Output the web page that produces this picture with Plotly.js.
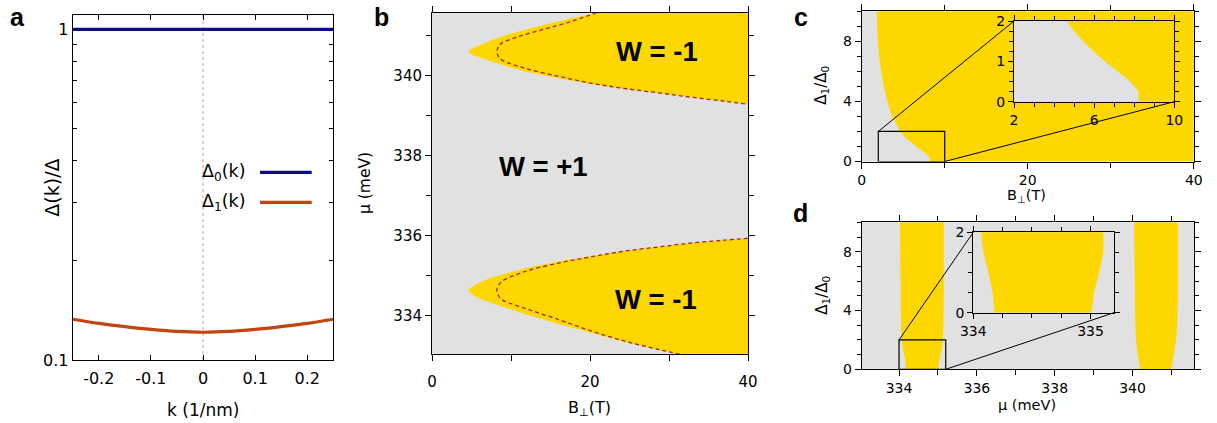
<!DOCTYPE html>
<html><head><meta charset="utf-8">
<script src="https://cdn.plot.ly/plotly-3.0.1.min.js"></script>
<style>html,body{margin:0;padding:0;background:#fff}</style>
</head><body><div id="chart" style="width:1217px;height:423px"></div>
<script>
// ---------- Panel a data ----------
const kVals  = [-0.25,-0.2,-0.15,-0.1,-0.05,0,0.05,0.1,0.15,0.2,0.25];
const delta0 = [1,1,1,1,1,1,1,1,1,1,1];
const delta1 = [0.1328,0.1290,0.1262,0.1238,0.1220,0.1213,0.1220,0.1238,0.1262,0.1290,0.1328];
const aXTickVals = [-0.2,-0.1,0,0.1,0.2];
const aXTickText = ['-0.2','-0.1','0','0.1','0.2'];
const aYTickVals = [0.1,1];
const aYTickText = ['0.1','1'];
const aYMinorVals = [0.2,0.3,0.4,0.5,0.6,0.7,0.8,0.9];

// ---------- Panel b data (B in T, mu in meV) ----------
const bRangeB  = [0, 40];
const bRangeMu = [333.04, 341.58];
// upper W=-1 region, outer boundary: top exit -> tip -> right edge
const upOuterB  = [21.05,18.1,13.88,9.66,7.55,6.29,5.44,5.0,4.6,5.0,5.44,6.29,7.55,9.66,11.77,15.99,20.2,24.4,28.7,32.9,37.1,40];
const upOuterMu = [341.58,341.46,341.26,341.04,340.90,340.80,340.73,340.68,340.61,340.54,340.50,340.44,340.36,340.23,340.11,339.94,339.79,339.675,339.57,339.46,339.36,339.29];
// upper region, dashed boundary
const upDashB  = [20.84,17.26,13.88,10.93,8.82,8.42,8.19,8.42,8.82,11.77,15.99,20.2,24.4,28.7,32.9,37.1,40];
const upDashMu = [341.58,341.34,341.15,340.98,340.82,340.73,340.61,340.49,340.40,340.19,339.99,339.815,339.685,339.575,339.465,339.365,339.29];
// lower W=-1 region, outer boundary: right edge -> tip -> bottom exit
const loOuterB  = [40,37.1,32.9,28.7,24.4,20.2,15.99,11.77,9.66,7.55,6.29,5.44,5.0,4.6,5.0,5.44,6.29,7.55,9.66,11.77,15.99,20.2,24.4,28.7,31.6];
const loOuterMu = [335.94,335.90,335.83,335.73,335.63,335.50,335.36,335.19,335.08,334.96,334.86,334.78,334.72,334.63,334.55,334.49,334.41,334.32,334.18,334.05,333.80,333.57,333.35,333.15,333.04];
// lower region, dashed boundary
const loDashB  = [40,37.1,32.9,28.7,24.4,20.2,15.99,11.77,8.82,8.42,8.19,8.42,8.82,11.77,15.99,20.2,24.4,28.7,31.4];
const loDashMu = [335.94,335.895,335.825,335.725,335.62,335.48,335.32,335.11,334.86,334.76,334.63,334.51,334.41,334.19,333.91,333.62,333.37,333.16,333.04];

// ---------- Panel c data ----------
const cRangeB = [0, 40];
const cRangeD = [0, 10];
const cBoundB = [1.81,1.85,1.93,2.1,2.33,2.65,3.0,3.6,4.63,5.46,6.54,7.2,7.79,8.2,8.3];
const cBoundD = [10,9,8,7,6,5,4.2,3.1,2,1.5,1,0.74,0.5,0.25,0];
const cInsetRangeB = [2, 10];
const cInsetRangeD = [0, 2];

// ---------- Panel d data ----------
const dRangeMu = [333.04, 341.58];
const dRangeD  = [0, 10];
const dBand1LeftMu  = [334.02,334.03,334.05,334.066,334.085,334.128,334.165,334.179];
const dBand1LeftD   = [10,6,3,2,1.5,1,0.5,0];
const dBand1RightMu = [335.009,335.029,335.074,335.108,335.123,335.14,335.15,335.15];
const dBand1RightD  = [0,0.5,1,1.5,2,3,6,10];
const dBand2LeftMu  = [340.04,340.05,340.07,340.09,340.13,340.17,340.19];
const dBand2LeftD   = [10,6,3,2,1,0.5,0];
const dBand2RightMu = [341.0,341.03,341.06,341.12,341.15,341.17,341.17];
const dBand2RightD  = [0,0.5,1,2,3,6,10];
const dInsetRangeMu = [334, 335.2];
const dInsetRangeD  = [0, 2];

// ---------- colours ----------
const YEL = '#ffd700', GRY = '#e1e1e1';
const BLUE = '#0c0c8a', ORANGE = '#c2440e', DASHC = '#9e2a2b';

// ---------- geometry helpers (pixels -> paper) ----------
const W = 1217, H = 423;
const xd = (p0,p1) => [p0/W, p1/W];
const yd = (t,b) => [1 - b/H, 1 - t/H];
const P = {
  a:  {x: xd(72.7,333.3),  y: yd(15.3,360)},
  b:  {x: xd(432,748),     y: yd(12.7,354.3)},
  c:  {x: xd(861.7,1193.8),y: yd(11.3,161.5)},
  ci: {x: xd(1014,1174.3), y: yd(21,101.7)},
  d:  {x: xd(861.7,1194),  y: yd(222.3,369.3)},
  di: {x: xd(973.3,1114),  y: yd(232.3,312.7)}
};
const toPaper = (domain, range, v) => domain[0] + (v - range[0]) / (range[1] - range[0]) * (domain[1] - domain[0]);

const DJ = 'DejaVu Sans';
function ax(o){
  return Object.assign({showline:true, linecolor:'#000', linewidth:1, mirror:'ticks',
    ticks:'outside', tickcolor:'#000', tickwidth:1, ticklen:6, showgrid:false, zeroline:false,
    fixedrange:true, tickfont:{family:DJ, size:14, color:'#000'}}, o);
}
function minor(dt, t0, len){ return {ticks:'outside', ticklen:len||5, dtick:dt, tick0:t0, tickcolor:'#000', showgrid:false}; }

const traces = [];
// panel a
traces.push({x:kVals, y:delta0, xaxis:'x', yaxis:'y', mode:'lines', line:{color:BLUE, width:3.2}, hoverinfo:'skip'});
traces.push({x:kVals, y:delta1, xaxis:'x', yaxis:'y', mode:'lines', line:{color:ORANGE, width:3.2, shape:'spline'}, hoverinfo:'skip'});
// panel b fills
traces.push({x:upOuterB.concat([bRangeB[1]]), y:upOuterMu.concat([bRangeMu[1]]), xaxis:'x2', yaxis:'y2',
  mode:'lines', fill:'toself', fillcolor:YEL, line:{width:0, color:YEL}, hoverinfo:'skip'});
traces.push({x:loOuterB.concat([bRangeB[1]]), y:loOuterMu.concat([bRangeMu[0]]), xaxis:'x2', yaxis:'y2',
  mode:'lines', fill:'toself', fillcolor:YEL, line:{width:0, color:YEL}, hoverinfo:'skip'});
traces.push({x:upDashB, y:upDashMu, xaxis:'x2', yaxis:'y2', mode:'lines', line:{color:DASHC, width:1.3, dash:'4px,3px', shape:'spline'}, hoverinfo:'skip'});
traces.push({x:loDashB, y:loDashMu, xaxis:'x2', yaxis:'y2', mode:'lines', line:{color:DASHC, width:1.3, dash:'4px,3px', shape:'spline'}, hoverinfo:'skip'});
// panel c main + inset
const cPolyX = cBoundB.concat([cRangeB[1], cRangeB[1]]);
const cPolyY = cBoundD.concat([cRangeD[0], cRangeD[1]]);
traces.push({x:cPolyX, y:cPolyY, xaxis:'x3', yaxis:'y3', mode:'lines', fill:'toself', fillcolor:YEL, line:{width:0,color:YEL}, hoverinfo:'skip'});
traces.push({x:cPolyX, y:cPolyY, xaxis:'x5', yaxis:'y5', mode:'lines', fill:'toself', fillcolor:YEL, line:{width:0,color:YEL,shape:'spline'}, hoverinfo:'skip'});
// panel d main + inset
const b1X = dBand1LeftMu.concat(dBand1RightMu), b1Y = dBand1LeftD.concat(dBand1RightD);
const b2X = dBand2LeftMu.concat(dBand2RightMu), b2Y = dBand2LeftD.concat(dBand2RightD);
[['x4','y4'],['x6','y6']].forEach(([xa,ya])=>{
  traces.push({x:b1X, y:b1Y, xaxis:xa, yaxis:ya, mode:'lines', fill:'toself', fillcolor:YEL, line:{width:0,color:YEL}, hoverinfo:'skip'});
  traces.push({x:b2X, y:b2Y, xaxis:xa, yaxis:ya, mode:'lines', fill:'toself', fillcolor:YEL, line:{width:0,color:YEL}, hoverinfo:'skip'});
});

const layout = {
  width: W, height: H, margin:{l:0,r:0,t:0,b:0}, showlegend:false,
  paper_bgcolor:'#fff', plot_bgcolor:GRY,
  font:{family:DJ, color:'#000'},
  // panel a
  xaxis: ax({domain:P.a.x, anchor:'y', range:[-0.25,0.25], ticks:'inside', ticklen:5, ticklabelstandoff:4,
    tickmode:'array', tickvals:aXTickVals, ticktext:aXTickText, tickfont:{family:DJ,size:16,color:'#000'}}),
  yaxis: ax({domain:P.a.y, anchor:'x', type:'log', range:[-1,0.0423], ticks:'inside', ticklen:4,
    tickmode:'array', tickvals:aYTickVals, ticktext:aYTickText, tickfont:{family:DJ,size:16,color:'#000'},
    minor:{ticks:'inside', ticklen:4, tickmode:'array', tickvals:aYMinorVals, tickcolor:'#000', showgrid:false}}),
  // panel b
  xaxis2: ax({domain:P.b.x, anchor:'y2', range:bRangeB, dtick:20, tick0:0, ticklabelstandoff:8, minor:minor(10,0,6), tickfont:{family:DJ,size:15,color:'#000'}}),
  yaxis2: ax({domain:P.b.y, anchor:'x2', range:bRangeMu, dtick:2, tick0:334, minor:minor(1,334,5), tickfont:{family:DJ,size:15,color:'#000'}}),
  // panel c
  xaxis3: ax({domain:P.c.x, anchor:'y3', range:cRangeB, dtick:20, tick0:0, minor:minor(10,0,5)}),
  yaxis3: ax({domain:P.c.y, anchor:'x3', range:cRangeD, dtick:4, tick0:0, minor:minor(1,0,4)}),
  // panel d
  xaxis4: ax({domain:P.d.x, anchor:'y4', range:dRangeMu, dtick:2, tick0:334, minor:minor(1,334,5)}),
  yaxis4: ax({domain:P.d.y, anchor:'x4', range:dRangeD, dtick:4, tick0:0, minor:minor(1,0,4)}),
  // inset c
  xaxis5: ax({domain:P.ci.x, anchor:'y5', range:cInsetRangeB, dtick:4, tick0:2, ticklen:5, minor:minor(1,2,4)}),
  yaxis5: ax({domain:P.ci.y, anchor:'x5', range:cInsetRangeD, dtick:1, tick0:0, ticklen:5, minor:minor(0.25,0,4)}),
  // inset d
  xaxis6: ax({domain:P.di.x, anchor:'y6', range:dInsetRangeMu, dtick:1, tick0:334, ticklen:5, minor:minor(0.25,334,4)}),
  yaxis6: ax({domain:P.di.y, anchor:'x6', range:dInsetRangeD, dtick:2, tick0:0, ticklen:5, minor:minor(0.5,0,4)}),
  shapes: [], annotations: []
};

// white background of panel a
layout.shapes.push({type:'rect', xref:'x domain', yref:'y domain', x0:0, x1:1, y0:0, y1:1, fillcolor:'#fff', line:{width:0}, layer:'below'});
layout.shapes.push({type:'line', xref:'x', yref:'y domain', x0:0, x1:0, y0:0, y1:1, line:{color:'#aaa', width:1, dash:'dot'}, layer:'below'});
// legend samples for panel a
const legY = [0.5445, 0.4575];
[BLUE, ORANGE].forEach((c,i)=>{
  layout.shapes.push({type:'line', xref:'x domain', yref:'y domain', x0:0.7187, x1:0.9171, y0:legY[i], y1:legY[i], line:{color:c, width:3.2}});
});
['Δ<sub>0</sub>(k)','Δ<sub>1</sub>(k)'].forEach((t,i)=>{
  layout.annotations.push({text:t, xref:'x domain', yref:'y domain', x:0.6727, y:legY[i], xanchor:'right', yanchor:'middle', showarrow:false, font:{family:DJ,size:17.5,color:'#000'}});
});

// zoom rectangles and connector lines
layout.shapes.push({type:'rect', xref:'x3', yref:'y3', x0:cInsetRangeB[0], x1:cInsetRangeB[1], y0:cInsetRangeD[0], y1:cInsetRangeD[1], line:{color:'#000', width:1.2}, layer:'above'});
layout.shapes.push({type:'rect', xref:'x4', yref:'y4', x0:dInsetRangeMu[0], x1:dInsetRangeMu[1], y0:dInsetRangeD[0], y1:dInsetRangeD[1], line:{color:'#000', width:1.2}, layer:'above'});
function connector(mainP, mainRx, mainRy, insP, insRx, insRy, vx, vy){
  layout.shapes.push({type:'line', xref:'paper', yref:'paper',
    x0: toPaper(mainP.x, mainRx, vx), y0: toPaper(mainP.y, mainRy, vy),
    x1: toPaper(insP.x, insRx, vx),   y1: toPaper(insP.y, insRy, vy),
    line:{color:'#000', width:1}, layer:'above'});
}
connector(P.c, cRangeB, cRangeD, P.ci, cInsetRangeB, cInsetRangeD, cInsetRangeB[0], cInsetRangeD[1]);
connector(P.c, cRangeB, cRangeD, P.ci, cInsetRangeB, cInsetRangeD, cInsetRangeB[1], cInsetRangeD[0]);
connector(P.d, dRangeMu, dRangeD, P.di, dInsetRangeMu, dInsetRangeD, dInsetRangeMu[0], dInsetRangeD[1]);
connector(P.d, dRangeMu, dRangeD, P.di, dInsetRangeMu, dInsetRangeD, dInsetRangeMu[1], dInsetRangeD[0]);

// W labels
const WF = {family:'Liberation Sans, Arial, sans-serif', size:27.5, color:'#000'};
layout.annotations.push({text:'<b>W = -1</b>', xref:'x2', yref:'y2', x:28.44, y:340.61, showarrow:false, font:WF});
layout.annotations.push({text:'<b>W = -1</b>', xref:'x2', yref:'y2', x:28.35, y:334.40, showarrow:false, font:WF});
layout.annotations.push({text:'<b>W = +1</b>', xref:'x2', yref:'y2', x:14.1, y:337.73, showarrow:false, font:WF});

// panel letters
const LF = {family:'Liberation Sans, Arial, sans-serif', size:25, color:'#000'};
[['a',17,17.3],['b',381,17.3],['c',801,17.3],['d',800,213]].forEach(([t,x,y])=>{
  layout.annotations.push({text:'<b>'+t+'</b>', xref:'paper', yref:'paper', x:x/W, y:1-y/H, xanchor:'center', yanchor:'middle', showarrow:false, font:LF});
});

// axis titles as annotations
function title(t, x, y, size, rot){
  layout.annotations.push({text:t, xref:'paper', yref:'paper', x:x/W, y:1-y/H, xanchor:'center', yanchor:'middle',
    textangle: rot ? -90 : 0, showarrow:false, font:{family:DJ, size:size, color:'#000'}});
}
title('k (1/nm)', 202.5, 410, 17, false);
title('Δ(k)/Δ', 51.7, 188, 19, true);
title('B<sub>⊥</sub>(T)', 589, 408, 16, false);
title('μ (meV)', 365, 183, 15.5, true);
title('B<sub>⊥</sub>(T)', 1026.7, 196, 14.5, false);
title('Δ<sub>1</sub>/Δ<sub>0</sub>', 821.7, 85, 15, true);
title('μ (meV)', 1026.7, 404.5, 14.5, false);
title('Δ<sub>1</sub>/Δ<sub>0</sub>', 821.7, 295, 15, true);

Plotly.newPlot('chart', traces, layout, {staticPlot:true, displayModeBar:false});
</script>
</body></html>
